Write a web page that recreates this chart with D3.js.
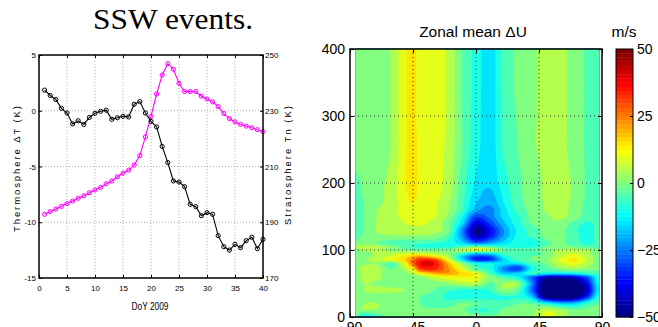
<!DOCTYPE html>
<html>
<head>
<meta charset="utf-8">
<script src="https://cdn.jsdelivr.net/npm/d3@7"></script>
<style>
  body { margin: 0; background: #fff; }
  svg { display: block; }
</style>
</head>
<body>
<svg id="fig" width="658" height="327"></svg>
<script>
// ---------- Left panel: thermosphere ΔT and stratosphere Tn, DoY 2009 ----------
const days = [1, 2, 3, 4, 5, 6, 7, 8, 9, 10, 11, 12, 13, 14, 15, 16, 17, 18, 19, 20,
              21, 22, 23, 24, 25, 26, 27, 28, 29, 30, 31, 32, 33, 34, 35, 36, 37, 38, 39, 40];
const thermoDT = [1.85, 1.37, 1.01, 0.22, -0.2, -1.18, -0.9, -1.23, -0.6, -0.23,
                  -0.05, 0.05, -0.77, -0.63, -0.5, -0.55, 0.58, 0.82, -0.2, -0.95,
                  -1.45, -3.2, -4.65, -6.3, -6.39, -6.81, -8.39, -8.6, -9.41, -9.14,
                  -9.29, -11.2, -12.19, -12.49, -11.98, -12.28, -11.65, -11.35, -12.37, -11.53];
const stratoTn = [192.85, 193.8, 194.75, 195.7, 196.7, 197.6, 198.6, 199.5, 200.6, 201.6,
                  202.5, 203.8, 204.8, 206.3, 207.6, 208.7, 210.5, 213.9, 220.6, 228.0,
                  236.0, 242.8, 246.9, 244.9, 239.8, 236.9, 236.9, 236.9, 235.2, 234.2,
                  233.2, 231.5, 229.0, 227.2, 226.0, 225.1, 224.5, 223.9, 223.2, 222.5];
const dayTicks = [0, 5, 10, 15, 20, 25, 30, 35, 40];
const dtTicks = [-15, -10, -5, 0, 5];
const tnTicks = [170, 190, 210, 230, 250];

// ---------- Right panel: zonal mean ΔU (m/s), latitude × altitude (km) ----------
const latitudes = [-86, -80, -70, -60, -50, -45, -40, -30, -20, -10, 0, 10, 20, 30, 40, 50, 60, 70, 80, 88];
const altitudes = [0, 10, 20, 30, 40, 50, 60, 65, 70, 75, 80, 85, 90, 95, 100, 105, 110,
                   120, 130, 140, 150, 160, 170, 180, 190, 200, 250, 300, 350, 400];
// one row per altitude (bottom to top), one value per latitude
const deltaU = [
  [2, -12, -4, 2, 2, 2, 2, 2, 2, 3, 2, 1, 2, 2, 4, 12, 8, 1, 1, 1],
  [2, 4, 4, 2, 2, 2, 1, 1, 2, 1, -5, -5, 1, 2, 3, 9, 6, 1, 1, 1],
  [3, 5, 5, 3, 2, 1, 0, -3, -3, 1, 0, -2, -3, 0, -1, -8, -15, -15, -5, 0],
  [2, 3, 3, 2, 1, 1, 0, -3, -6, -7, -8, -7, -6, -6, -15, -50, -55, -50, -30, -5],
  [1, 5, 6, 6, 5, 4, 3, 0, -4, -6, -7, -5, 4, -2, -25, -55, -58, -55, -40, -10],
  [2, 5, 4, 2, 1, 1, 1, 2, 4, 7, 8, -1, 5, 4, -22, -52, -55, -52, -35, -8],
  [2, 7, 6, 2, 2, 3, 4, 10, 14, 15, 13, 3, -4, -10, -25, -40, -42, -38, -25, -6],
  [2, 7, 6, 2, 4, 7, 14, 22, 24, 19, 13, -3, -15, -14, -5, -10, -12, -10, -5, -2],
  [3, 7, 6, 1, 6, 14, 30, 34, 26, 14, 0, -6, -22, -28, -8, -4, 0, 2, 1, 0],
  [3, 6.5, 6, -2, 11, 22, 38, 38, 25, 9, -4, -8, -20, -27, -8, -1, 6, 8, 5, 1],
  [2, 4, 4, -3, 15, 30, 40, 40, 22, 4, -8, -10, -12, -12, -3, 1, 9, 13, 7, 2],
  [2, 4, 9, 12.5, 20, 29, 37, 35, 14, -10, -32, -30, -14, -3, 0, 3, 11, 16, 9, 2],
  [1, 3, 7, 11, 17, 22, 25, 18, 7, -15, -30, -28, -9, -2, 0, 2, 9, 13, 8, 2],
  [1, 3, 6, 8, 10, 11, 9, 7, 4, -4, -14, -12, -3, -1, -2, 1, 8, 10, 6, 1],
  [3, 6, 6, 3, 1, 0, 0, 1, 2, 8, 13, 10, 0, -2, -1, 2, 6, 7, 5, 1],
  [6, 8, 7, 3, -2, -5, -6, -7, -7, -4, 0, -3, -7, -7, -7, 0, 1, 1, -3, -2],
  [1, 2, 0, -3, -4, -4, -4, -5, -7, -13, -24, -19, -12, -8, -10, -2, 1, -3, -6, -3],
  [-1, 1, 3.5, 4, 4, 4, 4, 3, -3, -20, -42, -33, -19, -8, -4, 1.5, 2, -3, -7, -3],
  [-3, 0, 6, 7, 7.5, 8, 8, 6.5, 2, -21, -46, -36, -20, -9, -3, 1.5, 2, -4, -7, -3],
  [-3, 0, 5.5, 7.5, 10, 11, 11, 8, 1, -13, -38, -29, -16, -7, 0.5, 3, 3.5, -2, -6, -3],
  [-2, 0, 5.5, 8, 12, 14.5, 13, 10.5, 4, -9, -28, -23, -13, -6, 1.5, 4, 6.5, 3, -2, -3],
  [-2, 0.5, 5, 8, 13, 15, 13.5, 11, 5.5, -4, -18, -22, -12, -3, 1.5, 5.5, 6.5, 3, -2, -3],
  [-2, 0, 4, 7, 13.5, 15, 13.5, 11, 6, -3.5, -15, -19, -10, -2, 2, 5.5, 7, 3.5, -1.5, -2.5],
  [-1.5, 0.5, 4, 7, 14, 15.5, 14, 11.5, 7, -3, -13, -17, -9, -1.5, 2, 6, 7.5, 4, -1, -2.5],
  [-1, 1, 4, 7, 14.5, 16, 14, 12, 7.5, -2, -12, -15.5, -8, -1, 2, 6, 7.5, 4, -1, -2],
  [-1, 1, 3.5, 7, 15, 16.5, 14, 12, 8, -2, -11, -13, -7, -1, 2, 6, 7.5, 4, -1, -2],
  [2, 2.5, 3, 5.5, 14.5, 16, 14, 12.5, 8.5, 0, -8, -13, -4, 0, 4, 6.5, 6.5, 3, -1, -3],
  [2.5, 2.5, 3, 5.5, 14.5, 15.5, 14, 13, 9, 0, -7.5, -13, -3.5, 0.5, 4, 6.5, 6.5, 3, -1, -3],
  [2.5, 2.5, 3, 5.5, 14.5, 15.5, 14, 13, 9, 0, -7, -13, -3, 1, 4, 6.5, 6.5, 3, -1, -3],
  [2.5, 2.5, 3, 5.5, 14.5, 15.5, 14, 13, 9, 0, -7, -13, -3, 1, 4, 6.5, 6.5, 3, -1, -3]
];
const latTicks = [-90, -45, 0, 45, 90];
const altTicks = [0, 100, 200, 300, 400];
const cbarTicks = [-50, -25, 0, 25, 50];
const levelStep = 5;

const svg = d3.select("#fig");
const sans = "'Liberation Sans', Arial, Helvetica, sans-serif";

// ================= Left panel =================
const xDay = d3.scaleLinear([0, 40], [39, 263]);
const yDT = d3.scaleLinear([-15, 5], [278, 55]);
const yTn = d3.scaleLinear([170, 250], [278, 55]);

svg.append("text")
  .attr("x", 173).attr("y", 28.5)
  .attr("text-anchor", "middle")
  .attr("font-family", "'Liberation Serif', 'Times New Roman', serif")
  .attr("font-size", 30)
  .attr("textLength", 160).attr("lengthAdjust", "spacingAndGlyphs")
  .text("SSW events.");

const gL = svg.append("g");
// dotted grid
gL.append("g").selectAll("line").data(dayTicks.slice(1, -1)).join("line")
  .attr("x1", d => xDay(d)).attr("x2", d => xDay(d))
  .attr("y1", yDT(5)).attr("y2", yDT(-15))
  .attr("stroke", "#999").attr("stroke-width", 0.8).attr("stroke-dasharray", "1,2");
gL.append("g").selectAll("line").data(dtTicks.slice(1, -1)).join("line")
  .attr("x1", xDay(0)).attr("x2", xDay(40))
  .attr("y1", d => yDT(d)).attr("y2", d => yDT(d))
  .attr("stroke", "#999").attr("stroke-width", 0.8).attr("stroke-dasharray", "1,2");

function styleAxis(g, size) {
  g.select(".domain").remove();
  g.attr("font-family", sans).attr("font-size", size);
  g.selectAll("line").attr("stroke", "#000");
  return g;
}
gL.append("g").attr("transform", `translate(${xDay(0)},0)`)
  .call(d3.axisLeft(yDT).tickValues(dtTicks).tickSize(-3).tickPadding(3).tickFormat(d => String(d)))
  .call(g => styleAxis(g, 8));
gL.append("g").attr("transform", `translate(${xDay(40)},0)`)
  .call(d3.axisRight(yTn).tickValues(tnTicks).tickSize(-3).tickPadding(2).tickFormat(d => String(d)))
  .call(g => styleAxis(g, 8));
gL.append("g").attr("transform", `translate(0,${yDT(-15)})`)
  .call(d3.axisBottom(xDay).tickValues(dayTicks).tickSize(-3).tickPadding(7).tickFormat(d => String(d)))
  .call(g => styleAxis(g, 8));
gL.append("g").attr("transform", `translate(0,${yDT(5)})`)
  .call(d3.axisTop(xDay).tickValues(dayTicks).tickSize(-3).tickFormat(""))
  .call(g => styleAxis(g, 8));

// series
const dtLine = d3.line().x((d, i) => xDay(days[i])).y(d => yDT(d));
const tnLine = d3.line().x((d, i) => xDay(days[i])).y(d => yTn(d));
gL.append("path").attr("d", tnLine(stratoTn))
  .attr("fill", "none").attr("stroke", "#ff00ff").attr("stroke-width", 1.1);
gL.append("g").selectAll("circle").data(stratoTn).join("circle")
  .attr("cx", (d, i) => xDay(days[i])).attr("cy", d => yTn(d)).attr("r", 2.1)
  .attr("fill", "none").attr("stroke", "#ff00ff").attr("stroke-width", 1);
gL.append("path").attr("d", dtLine(thermoDT))
  .attr("fill", "none").attr("stroke", "#000").attr("stroke-width", 1.1);
gL.append("g").selectAll("circle").data(thermoDT).join("circle")
  .attr("cx", (d, i) => xDay(days[i])).attr("cy", d => yDT(d)).attr("r", 2.1)
  .attr("fill", "none").attr("stroke", "#000").attr("stroke-width", 1);

gL.append("rect")
  .attr("x", xDay(0)).attr("y", yDT(5))
  .attr("width", xDay(40) - xDay(0)).attr("height", yDT(-15) - yDT(5))
  .attr("fill", "none").attr("stroke", "#000").attr("stroke-width", 1.5);

gL.append("text")
  .attr("x", 150).attr("y", 310).attr("text-anchor", "middle")
  .attr("font-family", sans).attr("font-size", 10)
  .attr("textLength", 37).attr("lengthAdjust", "spacingAndGlyphs")
  .text("DoY 2009");
gL.append("text")
  .attr("transform", "translate(20,169) rotate(-90)").attr("text-anchor", "middle")
  .attr("font-family", sans).attr("font-size", 9.5)
  .attr("textLength", 126).attr("lengthAdjust", "spacing")
  .text("Thermosphere ΔT (K)");
gL.append("text")
  .attr("transform", "translate(291,165.5) rotate(-90)").attr("text-anchor", "middle")
  .attr("font-family", sans).attr("font-size", 9.5)
  .attr("textLength", 119).attr("lengthAdjust", "spacing")
  .text("Stratosphere Tn (K)");

// ================= Right panel =================
const xLat = d3.scaleLinear([-90, 90], [350, 602]);
const yAlt = d3.scaleLinear([0, 400], [317, 49]);

function jet(t) {
  t = Math.max(0, Math.min(1, t));
  const c = v => Math.round(255 * Math.max(0, Math.min(1, v)));
  return `rgb(${c(1.5 - Math.abs(4 * t - 3))},${c(1.5 - Math.abs(4 * t - 2))},${c(1.5 - Math.abs(4 * t - 1))})`;
}
const uColor = d3.scaleLinear([-50, 50], [0, 1]).clamp(true);

// smooth sampling of the gridded field (Catmull-Rom in grid-index space)
const latIndex = d3.scaleLinear(latitudes, d3.range(latitudes.length)).clamp(true);
const altIndex = d3.scaleLinear(altitudes, d3.range(altitudes.length)).clamp(true);
function catmull(p0, p1, p2, p3, t) {
  return 0.5 * (2 * p1 + (p2 - p0) * t + (2 * p0 - 5 * p1 + 4 * p2 - p3) * t * t
         + (3 * p1 - p0 - 3 * p2 + p3) * t * t * t);
}
function fieldAt(lat, alt) {
  const nI = latitudes.length, nJ = altitudes.length;
  const fi = latIndex(lat), fj = altIndex(alt);
  const i1 = Math.min(Math.floor(fi), nI - 2), j1 = Math.min(Math.floor(fj), nJ - 2);
  const ti = fi - i1, tj = fj - j1;
  const ci = k => Math.max(0, Math.min(nI - 1, k));
  const cj = k => Math.max(0, Math.min(nJ - 1, k));
  const along = j => {
    const r = deltaU[cj(j)];
    return catmull(r[ci(i1 - 1)], r[ci(i1)], r[ci(i1 + 1)], r[ci(i1 + 2)], ti);
  };
  return catmull(along(j1 - 1), along(j1), along(j1 + 1), along(j1 + 2), tj);
}

const gx0 = Math.round(xLat(latitudes[0])), gx1 = Math.round(xLat(latitudes[latitudes.length - 1]));
const gy0 = Math.round(yAlt(altitudes[altitudes.length - 1])), gy1 = Math.round(yAlt(altitudes[0]));
const nx = gx1 - gx0, ny = gy1 - gy0;
const grid = new Float64Array(nx * ny);
for (let j = 0; j < ny; j++) {
  const alt = yAlt.invert(gy0 + j + 0.5);
  for (let i = 0; i < nx; i++) {
    grid[j * nx + i] = fieldAt(xLat.invert(gx0 + i + 0.5), alt);
  }
}
const levels = d3.range(-45, 50 + 0.1, levelStep);
const bands = d3.contours().size([nx, ny]).thresholds(levels)(grid);

const gR = svg.append("g");
const gField = gR.append("g").attr("transform", `translate(${gx0},${gy0})`);
gField.append("rect").attr("width", nx).attr("height", ny).attr("fill", jet(uColor(-50)));
gField.selectAll("path").data(bands).join("path")
  .attr("d", d3.geoPath())
  .attr("fill", d => jet(uColor(d.value)))
  .attr("stroke", d => jet(uColor(d.value))).attr("stroke-width", 0.3);

// dotted grid
gR.append("g").selectAll("line").data(latTicks.slice(1, -1)).join("line")
  .attr("x1", d => xLat(d)).attr("x2", d => xLat(d))
  .attr("y1", yAlt(400)).attr("y2", yAlt(0))
  .attr("stroke", "#222").attr("stroke-width", 0.9).attr("stroke-dasharray", "1,3");
gR.append("g").selectAll("line").data(altTicks.slice(1, -1)).join("line")
  .attr("x1", xLat(-90)).attr("x2", xLat(90))
  .attr("y1", d => yAlt(d)).attr("y2", d => yAlt(d))
  .attr("stroke", "#222").attr("stroke-width", 0.9).attr("stroke-dasharray", "1,3");

gR.append("g").attr("transform", `translate(${xLat(-90)},0)`)
  .call(d3.axisLeft(yAlt).tickValues(altTicks).tickSize(-4).tickPadding(5))
  .call(g => styleAxis(g, 14));
gR.append("g").attr("transform", `translate(${xLat(90)},0)`)
  .call(d3.axisRight(yAlt).tickValues(altTicks).tickSize(-4).tickFormat(""))
  .call(g => styleAxis(g, 14));
gR.append("g").attr("transform", `translate(0,${yAlt(0)})`)
  .call(d3.axisBottom(xLat).tickValues(latTicks).tickSize(-4).tickPadding(5))
  .call(g => styleAxis(g, 14));
gR.append("g").attr("transform", `translate(0,${yAlt(400)})`)
  .call(d3.axisTop(xLat).tickValues(latTicks).tickSize(-4).tickFormat(""))
  .call(g => styleAxis(g, 14));
gR.append("rect")
  .attr("x", xLat(-90)).attr("y", yAlt(400))
  .attr("width", xLat(90) - xLat(-90)).attr("height", yAlt(0) - yAlt(400))
  .attr("fill", "none").attr("stroke", "#000").attr("stroke-width", 1.5);

gR.append("text")
  .attr("x", 473).attr("y", 36.5).attr("text-anchor", "middle")
  .attr("font-family", sans).attr("font-size", 15.5)
  .text("Zonal mean ΔU");

// colour bar
const cb = { x: 616, w: 17 };
const yBar = d3.scaleLinear([-50, 50], [317, 49]);
const nColors = 64;
const gC = svg.append("g");
gC.selectAll("rect").data(d3.range(nColors)).join("rect")
  .attr("x", cb.x).attr("width", cb.w)
  .attr("y", k => yBar(-50 + (k + 1) * 100 / nColors))
  .attr("height", k => yBar(-50 + k * 100 / nColors) - yBar(-50 + (k + 1) * 100 / nColors) + 0.4)
  .attr("fill", k => jet(k / (nColors - 1)));
gC.append("g").attr("transform", `translate(${cb.x + cb.w},0)`)
  .call(d3.axisRight(yBar).tickValues(cbarTicks).tickSize(-3).tickPadding(4))
  .call(g => styleAxis(g, 14));
gC.append("rect").attr("x", cb.x).attr("y", 49).attr("width", cb.w).attr("height", 268)
  .attr("fill", "none").attr("stroke", "#000").attr("stroke-width", 1);
gC.append("text")
  .attr("x", 624).attr("y", 36.5).attr("text-anchor", "middle")
  .attr("font-family", sans).attr("font-size", 15.5)
  .text("m/s");
</script>
</body>
</html>
